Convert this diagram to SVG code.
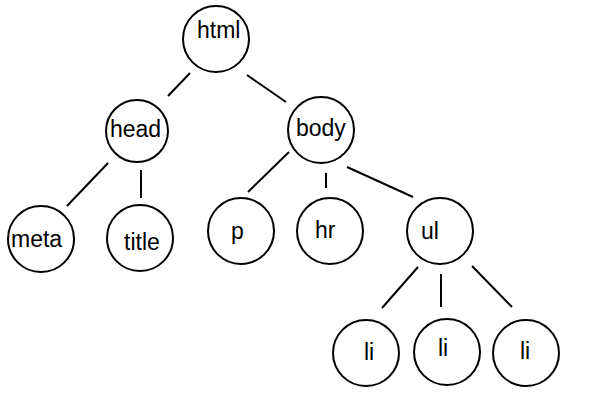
<svg xmlns="http://www.w3.org/2000/svg" width="598" height="404" viewBox="0 0 598 404">
<style>
.n circle{fill:#fff;stroke:#000;stroke-width:2}
.n text{font-family:"Liberation Sans",Arial,sans-serif;font-size:23px;fill:#000}
#edges line{stroke:#000;stroke-width:2}
</style>
<rect width="598" height="404" fill="#fff"/>
<g id="edges">
<line x1="190" y1="73" x2="168" y2="96"/>
<line x1="247" y1="75" x2="286" y2="102"/>
<line x1="108" y1="163" x2="67" y2="206"/>
<line x1="141" y1="170" x2="141" y2="198"/>
<line x1="289" y1="152" x2="248" y2="192"/>
<line x1="326" y1="173" x2="326" y2="188"/>
<line x1="347" y1="167" x2="413" y2="197"/>
<line x1="418" y1="267" x2="382" y2="308"/>
<line x1="441" y1="274" x2="441" y2="307"/>
<line x1="472" y1="266" x2="512" y2="307"/>
</g>
<g id="html" class="n"><circle cx="216" cy="39" r="33"/><text x="197" y="38">html</text></g>
<g id="head" class="n"><circle cx="137" cy="131" r="31"/><text x="110" y="137">head</text></g>
<g id="body" class="n"><circle cx="321" cy="130" r="33"/><text x="296" y="136">body</text></g>
<g id="meta" class="n"><circle cx="41" cy="239" r="33"/><text x="11" y="247">meta</text></g>
<g id="title" class="n"><circle cx="140" cy="238" r="33"/><text x="124" y="250">title</text></g>
<g id="p" class="n"><circle cx="241" cy="231" r="33"/><text x="231" y="239">p</text></g>
<g id="hr" class="n"><circle cx="330" cy="231" r="33"/><text x="315" y="238">hr</text></g>
<g id="ul" class="n"><circle cx="440" cy="231" r="33"/><text x="421" y="239">ul</text></g>
<g id="li1" class="n"><circle cx="366" cy="353" r="33"/><text x="364" y="360">li</text></g>
<g id="li2" class="n"><circle cx="447" cy="352" r="33"/><text x="438" y="356">li</text></g>
<g id="li3" class="n"><circle cx="526" cy="353" r="33"/><text x="520" y="359">li</text></g>
</svg>
